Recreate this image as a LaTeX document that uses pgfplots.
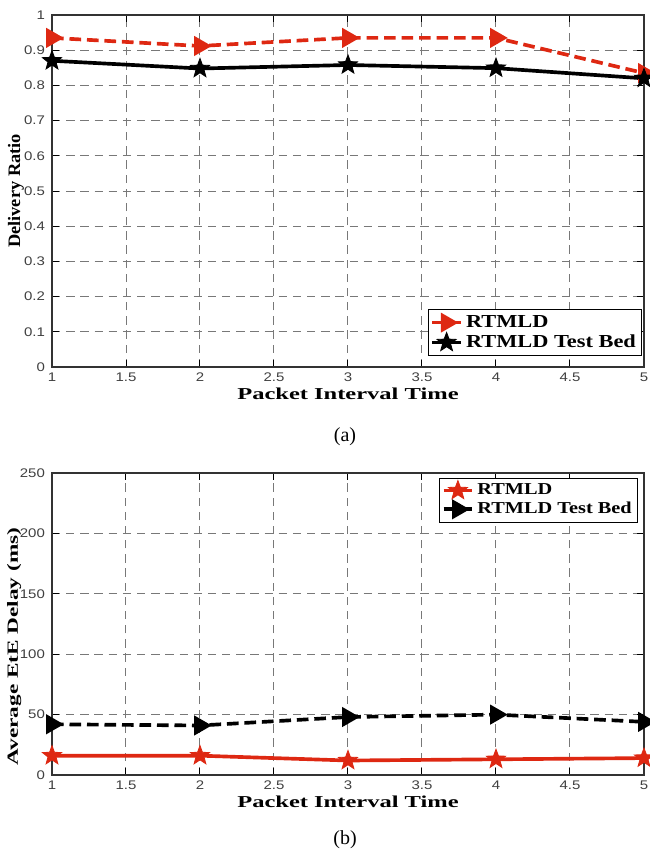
\documentclass[border=0pt]{standalone}
\usepackage{fontspec}
\setmainfont{Liberation Serif}
\setsansfont{Liberation Sans}
\newfontfamily\wideL[FakeStretch=1.22]{Liberation Serif}
\usepackage{graphicx}
\usepackage{pgfplots}
\pgfplotsset{compat=1.18}
\definecolor{myred}{RGB}{222,40,18}
\definecolor{gridgray}{RGB}{120,120,120}
\pgfdeclareplotmark{fstar}{%
  \pgfpathmoveto{\pgfpointpolar{90}{\pgfplotmarksize}}%
  \pgfpathlineto{\pgfpointpolar{126}{0.42\pgfplotmarksize}}%
  \pgfpathlineto{\pgfpointpolar{162}{\pgfplotmarksize}}%
  \pgfpathlineto{\pgfpointpolar{198}{0.42\pgfplotmarksize}}%
  \pgfpathlineto{\pgfpointpolar{234}{\pgfplotmarksize}}%
  \pgfpathlineto{\pgfpointpolar{270}{0.42\pgfplotmarksize}}%
  \pgfpathlineto{\pgfpointpolar{306}{\pgfplotmarksize}}%
  \pgfpathlineto{\pgfpointpolar{342}{0.42\pgfplotmarksize}}%
  \pgfpathlineto{\pgfpointpolar{18}{\pgfplotmarksize}}%
  \pgfpathlineto{\pgfpointpolar{54}{0.42\pgfplotmarksize}}%
  \pgfpathclose
  \pgfusepathqfillstroke
}
\begin{document}
\begin{tikzpicture}
\path[use as bounding box] (0,0) rectangle (390pt,-514.2pt);
\pgfplotsset{
  every axis/.style={
    scale only axis,
    width=355.2pt,
    xmin=1, xmax=5,
    xtick={1,1.5,...,5},
    grid=major,
    major grid style={gridgray, line width=0.6pt, dash pattern=on 5pt off 3.5pt},
    axis line style={black!80, line width=0.9pt},
    tick style={black, line width=0.6pt},
    /pgf/number format/assume math mode=true,
    ticklabel style={font=\sffamily\fontsize{7.5}{9}\selectfont, text=black!75, xscale=1.2},
    xlabel style={font=\bfseries\fontsize{10}{12}\selectfont, yshift=3pt},
    every axis y label/.style={anchor=center, rotate=90},
    legend style={draw=black, line width=0.6pt, row sep=-1pt, inner sep=1.5pt},
    legend cell align=left,
    xticklabels={1,1.5,2,2.5,3,3.5,4,4.5,5},
  },
}
\begin{axis}[
  at={(31.2pt,-9pt)}, anchor=north west,
  height=211.2pt,
  ymin=0, ymax=1,
  ytick={0,0.1,...,1.0},
  yticklabels={0,0.1,0.2,0.3,0.4,0.5,0.6,0.7,0.8,0.9,1},
  xlabel={\scalebox{1.47}[1]{Packet Interval Time}},
  ylabel={\scalebox{1.05}[1]{Delivery Ratio}},
  ylabel style={at={(axis description cs:-0.061,0.5)}, font=\bfseries\fontsize{10.5}{12}\selectfont},
  legend style={at={(0.997,0.03)}, anchor=south east, font=\wideL\bfseries\fontsize{11}{12}\selectfont},
]
\addplot[myred, line width=2.2pt, dash pattern=on 7pt off 3.5pt, mark=triangle*, mark size=4.8pt, mark options={solid, fill=myred, rotate=-90}]
  coordinates {(1,0.935) (2,0.912) (3,0.935) (4,0.935) (5,0.835)};
\addlegendentry{RTMLD}
\addplot[black, line width=2.2pt, mark=fstar, mark size=6pt, mark options={solid, fill=black, line width=0.5pt}]
  coordinates {(1,0.87) (2,0.848) (3,0.858) (4,0.849) (5,0.82)};
\addlegendentry{RTMLD Test Bed}
\end{axis}
\node[font=\fontsize{12}{14}\selectfont] at (207pt,-262.2pt) {(a)};
\begin{axis}[
  at={(31.2pt,-283.8pt)}, anchor=north west,
  height=181.2pt,
  ymin=0, ymax=250,
  ytick={0,50,...,250},
  xlabel={\scalebox{1.47}[1]{Packet Interval Time}},
  ylabel={\scalebox{1.5}[1]{Average EtE Delay (ms)}},
  ylabel style={at={(axis description cs:-0.064,0.425)}, font=\bfseries\fontsize{9.3}{10}\selectfont},
  legend style={at={(0.99,0.985)}, anchor=north east, font=\wideL\bfseries\fontsize{10}{11}\selectfont},
]
\addplot[myred, line width=2.2pt, mark=fstar, mark size=6pt, mark options={solid, fill=myred, line width=0.5pt}]
  coordinates {(1,16) (2,16) (3,12) (4,13) (5,14)};
\addlegendentry{RTMLD}
\addplot[black, line width=2.2pt, dash pattern=on 7pt off 3.5pt, mark=triangle*, mark size=4.8pt, mark options={solid, fill=black, rotate=-90}]
  coordinates {(1,42) (2,41) (3,48) (4,50) (5,44)};
\addlegendentry{RTMLD Test Bed}
\end{axis}
\node[font=\fontsize{12}{14}\selectfont] at (207pt,-504pt) {(b)};
\end{tikzpicture}
\end{document}
